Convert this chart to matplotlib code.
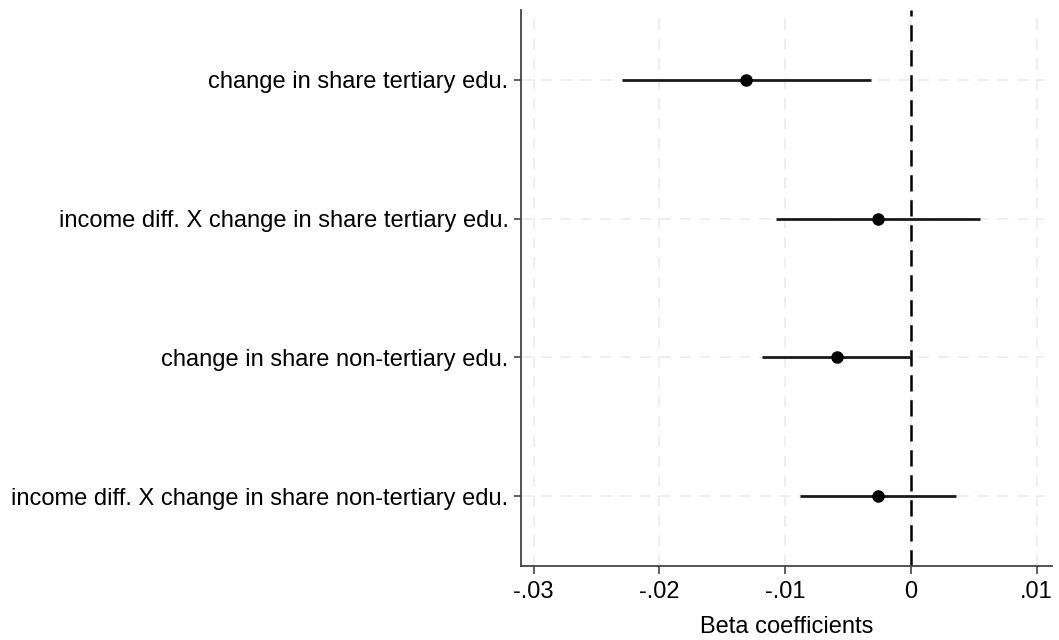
import matplotlib.pyplot as plt
import numpy as np

plt.rcParams['font.family'] = ['Liberation Sans', 'DejaVu Sans']

# coefficient labels (top to bottom)
labels = ['change in share tertiary edu.',
          'income diff. X change in share tertiary edu.',
          'change in share non-tertiary edu.',
          'income diff. X change in share non-tertiary edu.']
coef = [-0.0131, -0.0026, -0.0059, -0.0026]
ci_low = [-0.0230, -0.0107, -0.0118, -0.0088]
ci_high = [-0.0032, 0.0055, 0.0000, 0.0036]

xticks = [-0.03, -0.02, -0.01, 0, 0.01]
xtick_labels = ['-.03', '-.02', '-.01', '0', '.01']

fig = plt.figure(figsize=(10.59, 6.4), dpi=100)
ax = fig.add_axes([0.492, 0.116, 0.501, 0.868])

ypos = np.arange(1, len(labels) + 1)

# grid
for x in xticks:
    ax.axvline(x, color='#ededed', lw=1.3, ls=(0, (6, 5)), zorder=0)
for y in ypos:
    ax.axhline(y, xmax=0.985, color='#ededed', lw=1.3, ls=(0, (6, 5)), zorder=0)

ax.axvline(0, color='black', lw=1.8, ls=(0, (6.5, 3.5)), zorder=1)

ax.hlines(ypos, ci_low, ci_high, color='#1a1a1a', lw=2, zorder=2)
ax.plot(coef, ypos, 'o', color='black', ms=8, zorder=3)

ax.set_xlim(-0.0310, 0.0112)
ax.set_ylim(4.5, 0.5)
ax.set_yticks(ypos)
ax.set_yticklabels(labels, fontsize=17)
ax.set_xticks(xticks)
ax.set_xticklabels(xtick_labels, fontsize=17)
ax.set_xlabel('Beta coefficients', fontsize=17, labelpad=9)

for s in ['top', 'right']:
    ax.spines[s].set_visible(False)
for s in ['left', 'bottom']:
    ax.spines[s].set_color('#444444')
    ax.spines[s].set_linewidth(1.3)
ax.tick_params(axis='x', length=6, width=1.2, color='#444444', pad=5)
ax.tick_params(axis='y', length=5, width=1.2, color='#444444', pad=4)

fig.savefig('out.png', dpi=100)
